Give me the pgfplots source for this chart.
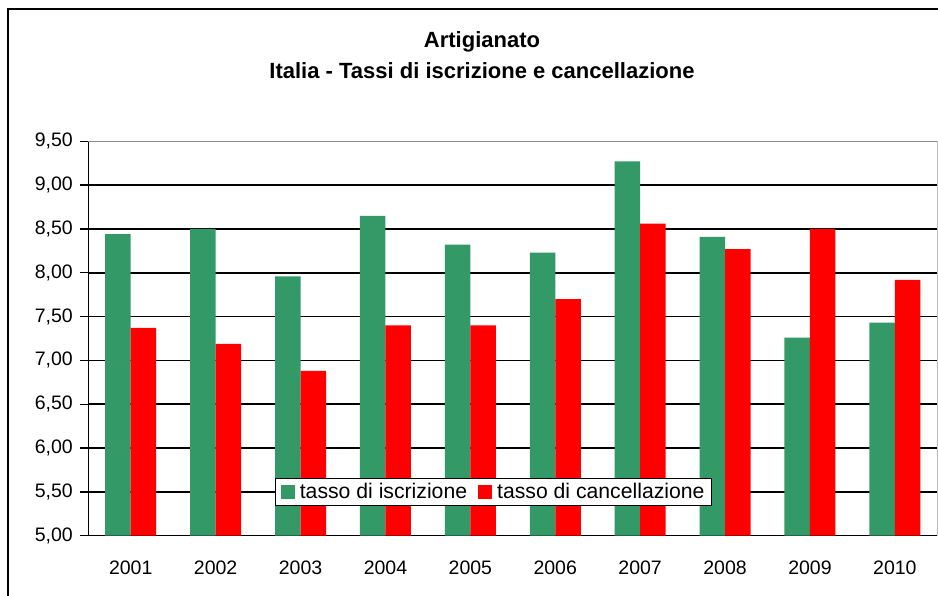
\documentclass[border=0pt]{standalone}
\usepackage{fontspec}
\setmainfont{Liberation Sans}
\usepackage{pgfplots}
\pgfplotsset{compat=1.18}
\definecolor{iscr}{RGB}{51,153,102}
\definecolor{canc}{RGB}{255,0,0}
\begin{document}
\begin{tikzpicture}
\useasboundingbox (0,0) rectangle (938pt,596pt);
\clip (0,0) rectangle (938pt,596pt);
\fill[white] (0,0) rectangle (938pt,596pt);
\begin{axis}[
  at={(88.3pt,60.3pt)}, anchor=south west,
  scale only axis, width=849pt, height=394.4pt,
  ybar=0pt, bar width=25.5pt,
  xmin=-0.5, xmax=9.5, ymin=5, ymax=9.5,
  xtick={0,...,9},
  xticklabels={2001,2002,2003,2004,2005,2006,2007,2008,2009,2010},
  minor xtick={-0.5,0.5,...,9.5},
  ytick={5,5.5,...,9.5},
  axis lines*=left,
  axis line style={line width=1.5pt, black, -},
  tick align=outside,
  major tick length=8pt, minor tick length=8pt,
  xtick style={draw=none},
  minor x tick style={line width=1.3pt, black},
  y tick style={line width=1.3pt, black},
  ymajorgrids, grid style={line width=1.5pt, black},
  /pgf/number format/.cd, fixed, fixed zerofill, precision=2, use comma, assume math mode=true,
  /pgfplots/.cd,
  ticklabel style={font=\fontsize{19.5}{22}\selectfont},
  yticklabel style={xshift=-4pt},
  xticklabel style={yshift=-14pt},
  legend style={at={(0.4775,0.111)}, anchor=center, draw=black, line width=1pt, fill=white,
    font=\fontsize{21.2}{25}\selectfont, inner xsep=5pt, inner ysep=3pt,
    /tikz/every even column/.append style={column sep=9pt}},
  legend columns=2,
  legend image code/.code={\fill[#1] (0pt,-7pt) rectangle (14pt,7pt); \path (17pt,0pt);},
]
\addplot[fill=iscr, draw=none] coordinates {
(0,8.44) (1,8.50) (2,7.96) (3,8.65) (4,8.32) (5,8.23) (6,9.27) (7,8.41) (8,7.26) (9,7.43)};
\addplot[fill=canc, draw=none] coordinates {
(0,7.37) (1,7.19) (2,6.88) (3,7.40) (4,7.40) (5,7.70) (6,8.56) (7,8.27) (8,8.50) (9,7.92)};
\legend{tasso di iscrizione, tasso di cancellazione}
\end{axis}
\draw[line width=1.5pt, gray!90] (88.3pt,454.7pt) -- (937.3pt,454.7pt);
\draw[line width=1pt, gray!50] (937.3pt,454.7pt) -- (937.3pt,60.3pt);
\node[font=\bfseries\fontsize{22}{26}\selectfont] at (482pt,554pt) {Artigianato};
\node[font=\bfseries\fontsize{22}{26}\selectfont] at (482pt,525pt) {Italia - Tassi di iscrizione e cancellazione};
\draw[line width=2pt] (8pt,-20pt) rectangle (960pt,587pt);
\end{tikzpicture}
\end{document}
